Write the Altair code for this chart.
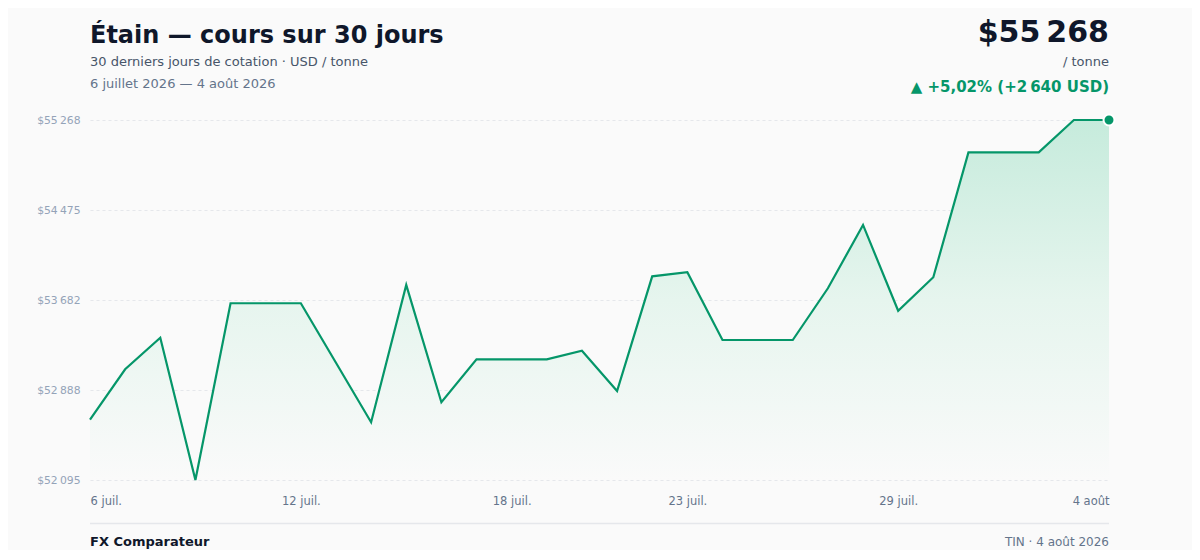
import altair as alt
import pandas as pd
from datetime import datetime, timezone

# ---- data ----
dates = [
    "2026-07-06", "2026-07-07", "2026-07-08", "2026-07-09", "2026-07-10",
    "2026-07-11", "2026-07-12", "2026-07-13", "2026-07-14", "2026-07-15",
    "2026-07-16", "2026-07-17", "2026-07-18", "2026-07-19", "2026-07-20",
    "2026-07-21", "2026-07-22", "2026-07-23", "2026-07-24", "2026-07-25",
    "2026-07-26", "2026-07-27", "2026-07-28", "2026-07-29", "2026-07-30",
    "2026-07-31", "2026-08-01", "2026-08-02", "2026-08-03", "2026-08-04",
]
prices = [
    52628, 53071, 53349, 52095, 53653,
    53653, 53653, 53128, 52604, 53814,
    52780, 53159, 53159, 53159, 53235,
    52879, 53890, 53926, 53329, 53329,
    53329, 53785, 54343, 53587, 53882,
    54983, 54983, 54983, 55268, 55268,
]
y_ticks = [52095, 52888.25, 53681.5, 54474.75, 55268]
x_tick_dates = ["2026-07-06", "2026-07-12", "2026-07-18", "2026-07-23", "2026-07-29", "2026-08-04"]

title = "Étain — cours sur 30 jours"
subtitle1 = "30 derniers jours de cotation · USD / tonne"
subtitle2 = "6 juillet 2026 — 4 août 2026"
big_price = "$55\u202f268"
unit = "/ tonne"
change = "▲ +5,02% (+2\u202f640 USD)"
footer_left = "FX Comparateur"
footer_right = "TIN · 4 août 2026"

FONT = "DejaVu Sans"
GREEN = "#059669"
W, H = 1019, 360


def ms(d):
    return int(datetime.strptime(d, "%Y-%m-%d").replace(tzinfo=timezone.utc).timestamp() * 1000)


df = pd.DataFrame({"date": dates, "price": prices})
last = df.tail(1)

x_enc = alt.X(
    "date:T",
    scale=alt.Scale(type="utc", nice=False, padding=0),
    axis=alt.Axis(
        title=None,
        values=[ms(d) for d in x_tick_dates],
        labelExpr="utcdate(datum.value) + ' ' + (utcmonth(datum.value) == 6 ? 'juil.' : 'août')",
        labelFlush=True,
        labelFont=FONT,
        labelFontSize=11.5,
        labelColor="#64748b",
        labelPadding=15,
        domain=False,
        ticks=False,
        grid=False,
    ),
)
y_enc = alt.Y(
    "price:Q",
    scale=alt.Scale(domain=[y_ticks[0], y_ticks[-1]], zero=False, nice=False),
    axis=alt.Axis(
        title=None,
        values=y_ticks,
        labelExpr="'$' + replace(format(datum.value, ',.0f'), ',', '\u202f')",
        labelFont=FONT,
        labelFontSize=10.8,
        labelColor="#94a3b8",
        labelPadding=10,
        domain=False,
        ticks=False,
        grid=True,
        gridColor="#e5e7eb",
        gridDash=[3, 3],
        gridWidth=1,
    ),
)

base = alt.Chart(df)

area = base.mark_area(
    line=False,
    color=alt.Gradient(
        gradient="linear",
        stops=[
            alt.GradientStop(color="#c6ebdc", offset=0),
            alt.GradientStop(color="#e6f5ee", offset=0.5),
            alt.GradientStop(color="#fafafa", offset=1),
        ],
        x1=1, x2=1, y1=0, y2=1,
    ),
).encode(x=x_enc, y=y_enc, y2=alt.datum(y_ticks[0]))

line = base.mark_line(color=GREEN, strokeWidth=2.2, strokeJoin="miter").encode(x="date:T", y="price:Q")

point = alt.Chart(last).mark_point(
    filled=True, color=GREEN, size=120, stroke="white", strokeWidth=2, opacity=1
).encode(x="date:T", y="price:Q")


def txt(text, x, y, size, color, weight="normal", align="left"):
    return alt.Chart(pd.DataFrame({"t": [text]})).mark_text(
        font=FONT, fontSize=size, color=color, fontWeight=weight,
        align=align, baseline="alphabetic",
    ).encode(text="t:N", x=alt.value(x), y=alt.value(y))


footer_line = alt.Chart(pd.DataFrame({"a": [0]})).mark_rule(
    color="#e5e7eb", strokeWidth=1.5
).encode(x=alt.value(0), x2=alt.value(W), y=alt.value(403.5))

chart = alt.layer(
    area, line, point,
    txt(title, 0, -77.5, 24, "#0f172a", "bold"),
    txt(subtitle1, 0, -54, 13, "#475569"),
    txt(subtitle2, 0, -32.5, 13, "#64748b"),
    txt(big_price, W, -77.7, 30, "#0f172a", "bold", "right"),
    txt(unit, W, -54, 13, "#475569", "normal", "right"),
    txt(change, W, -27.7, 15, GREEN, "bold", "right"),
    footer_line,
    txt(footer_left, 0, 426, 13, "#0f172a", "bold"),
    txt(footer_right, W, 426, 12, "#64748b", "normal", "right"),
).properties(
    width=W,
    height=H,
    autosize=alt.AutoSizeParams(type="none"),
    padding={"left": 82, "top": 112, "right": 83, "bottom": 70},
    background="#fafafa",
).configure_view(stroke=None)

chart.save("out.html", embed_options={"renderer": "svg", "actions": False})
